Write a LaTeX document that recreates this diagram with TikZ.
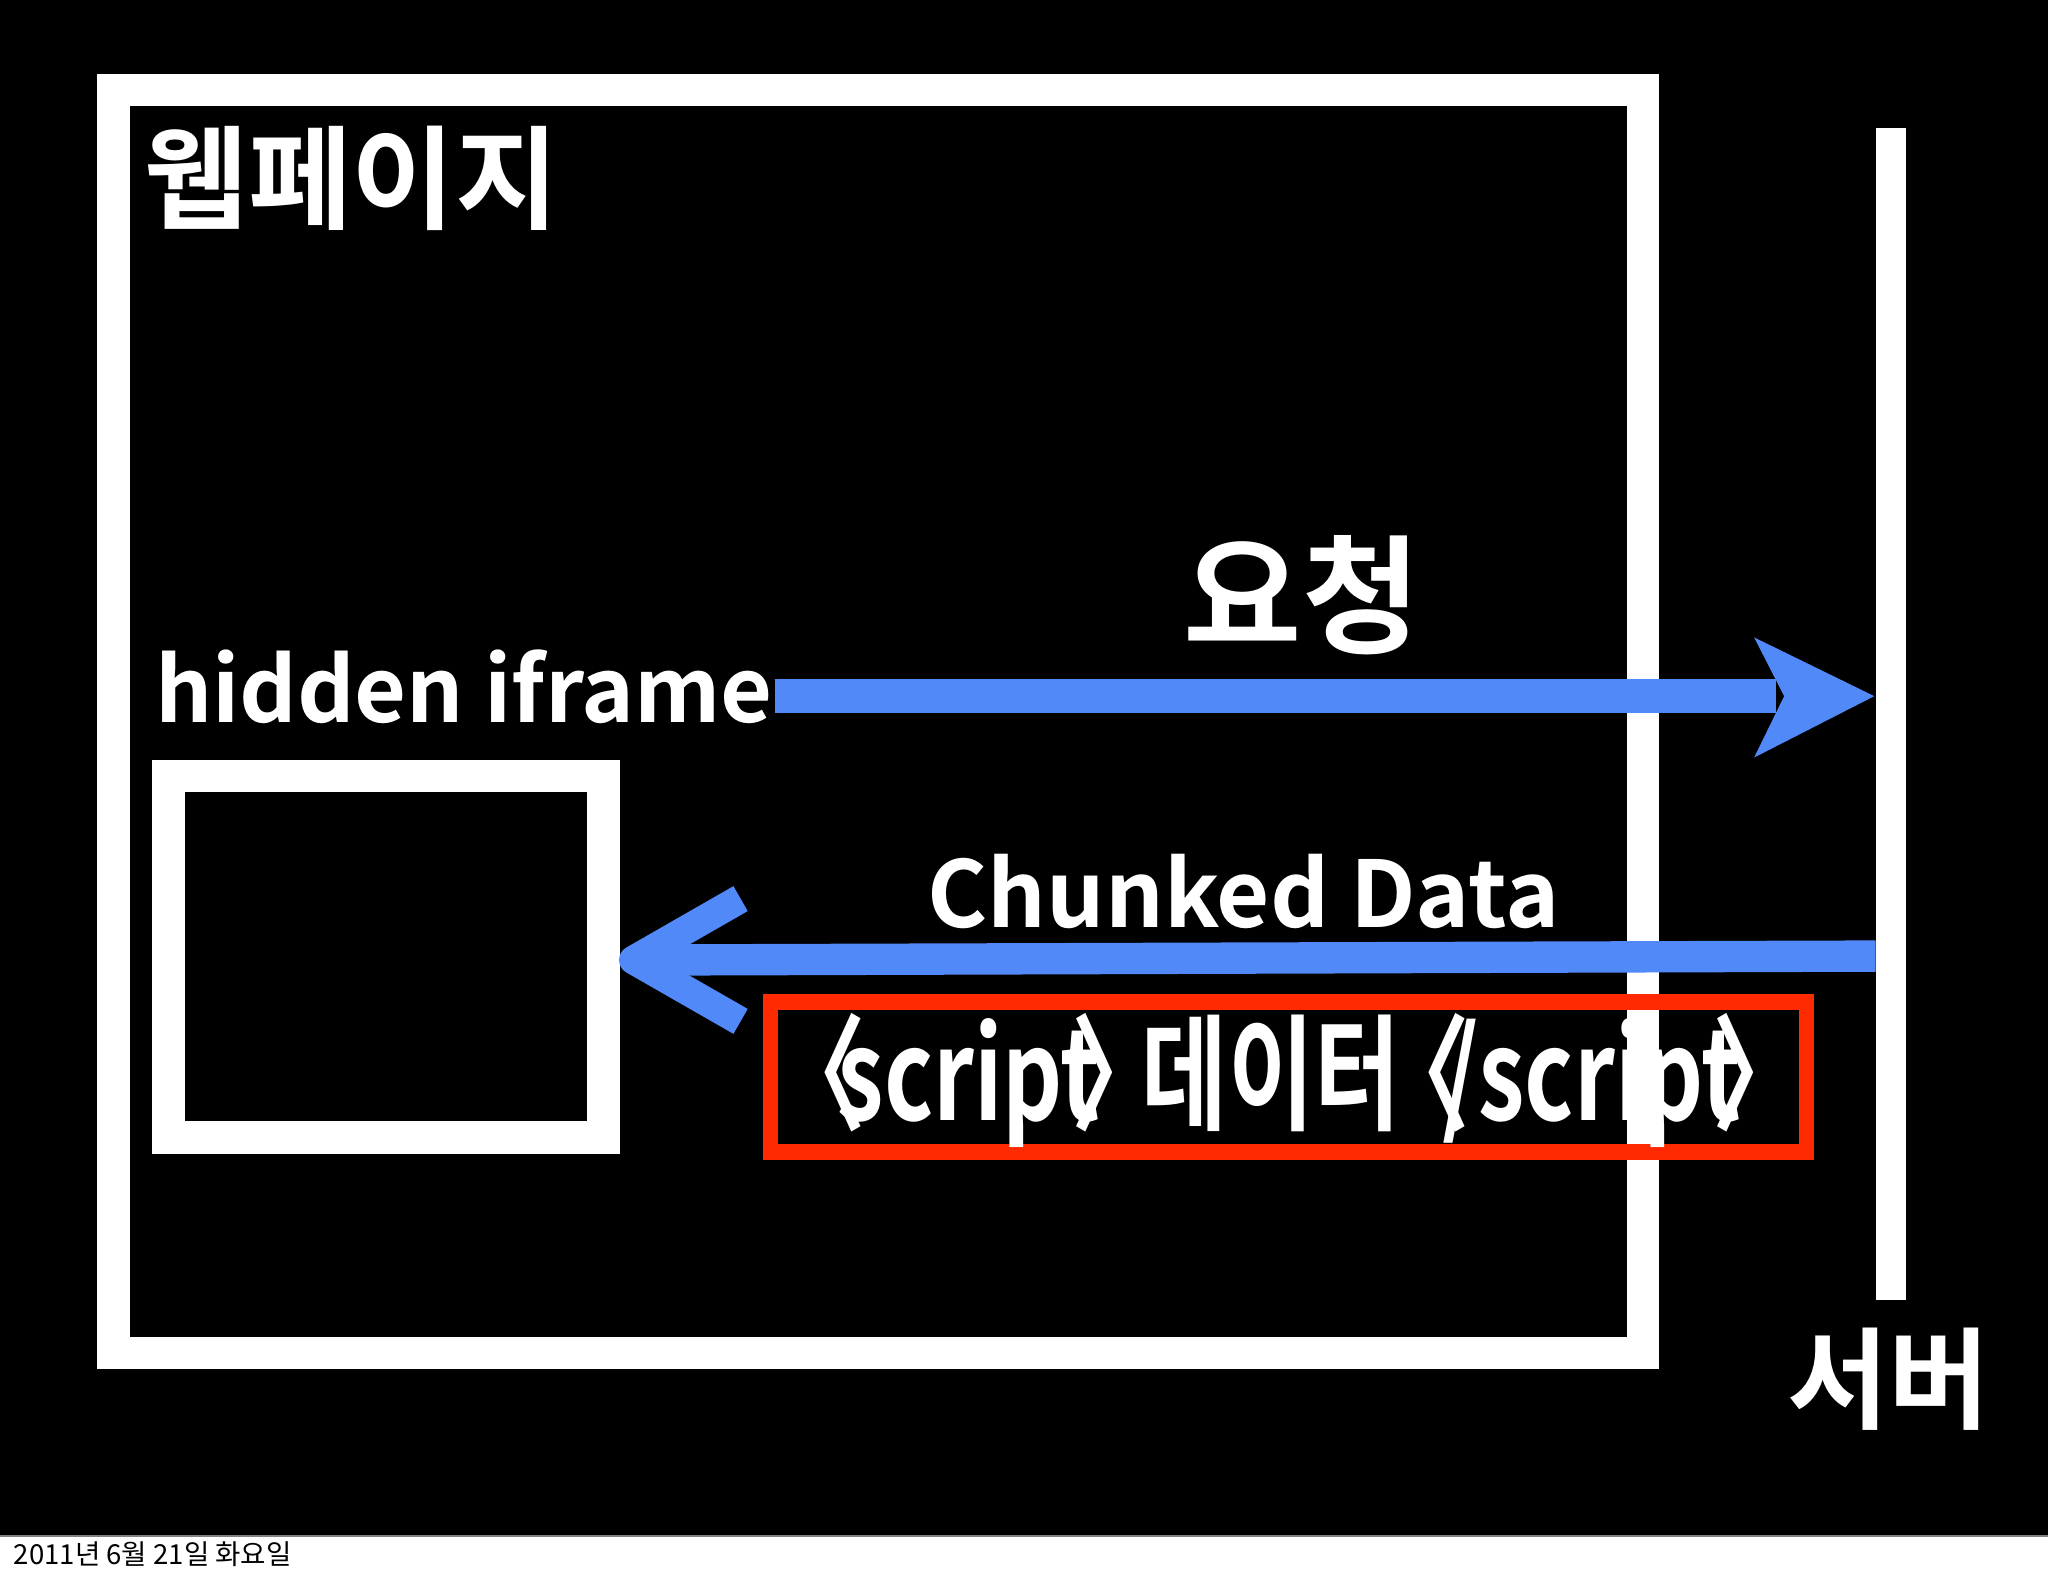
\documentclass[tikz,border=0pt]{standalone}
\usepackage{fontspec}
\setmainfont{Noto Sans CJK KR}
\newfontfamily\kb{Noto Sans CJK KR Bold}
\definecolor{arrblue}{HTML}{5189F8}
\definecolor{boxred}{HTML}{FF2A00}
\newcommand{\lbk}{\kern-0.25em〈\kern-0.3em}
\newcommand{\rbk}{\kern-0.3em〉\kern-0.25em}
\begin{document}
\begin{tikzpicture}[x=0.01cm,y=-0.01cm,
  wt/.style={text=white,font=\kb,inner sep=0pt},
  frame/.style={draw=white,line width=25*0.2845pt}]
\useasboundingbox (0,0) rectangle (1568,1206);
\fill[white] (0,0) rectangle (1568,1206);
\fill[black] (0,0) rectangle (1568,1176);
\draw[gray,line width=0.5pt] (0,1176) -- (1568,1176);
\draw[frame] (87,69) rectangle (1258,1036);
\node[wt,anchor=north west,font=\kb\fontsize{24.5}{25}\selectfont] (title) at (110,96) {웹페이지};
\draw[draw=white,line width=23*0.2845pt] (1448,98) -- (1448,995) coordinate (srvbot);
\node[wt,anchor=north,font=\kb\fontsize{24}{24}\selectfont] (srv) at (1446,1016) {서버};
\node[wt,anchor=base west,font=\kb\fontsize{19.5}{20}\selectfont] (hid) at (118,553) {hidden iframe};
\draw[frame] (129,594) rectangle (462,871);
\coordinate (ifr) at (485,735);
% request arrow
\coordinate (rqs) at (593,533);
\coordinate (rqe) at (1360,533);
\draw[arrblue,line width=26*0.2845pt] (rqs) -- (rqe);
\fill[arrblue] (1343,488) -- (1435,533) -- (1343,580) -- (1366,533) -- cycle;
\node[wt,anchor=base,font=\kb\fontsize{28}{28}\selectfont] (req) at (997,493) {요청};
% response arrow
\coordinate (rss) at (1436,732);
\draw[arrblue,line width=24*0.2845pt] (rss) -- (500,735);
\draw[arrblue,line width=22*0.2845pt,line join=round] (567,688) -- (ifr) -- (567,782);
\node[wt,anchor=base,font=\kb\fontsize{20}{20}\selectfont] (cd) at (952,710) {Chunked Data};
\draw[boxred,line width=12*0.2845pt] (590,767) rectangle (1383,882);
\node[wt] (scr) at (987,827) {\resizebox{7.55cm}{0.82cm}{\kb\lbk script\rbk 데이터\lbk /script\rbk}};
\node[anchor=west,inner sep=0pt,font=\fontsize{6}{6}\selectfont] (date) at (10,1190) {2011년 6월 21일 화요일};
\end{tikzpicture}
\end{document}
